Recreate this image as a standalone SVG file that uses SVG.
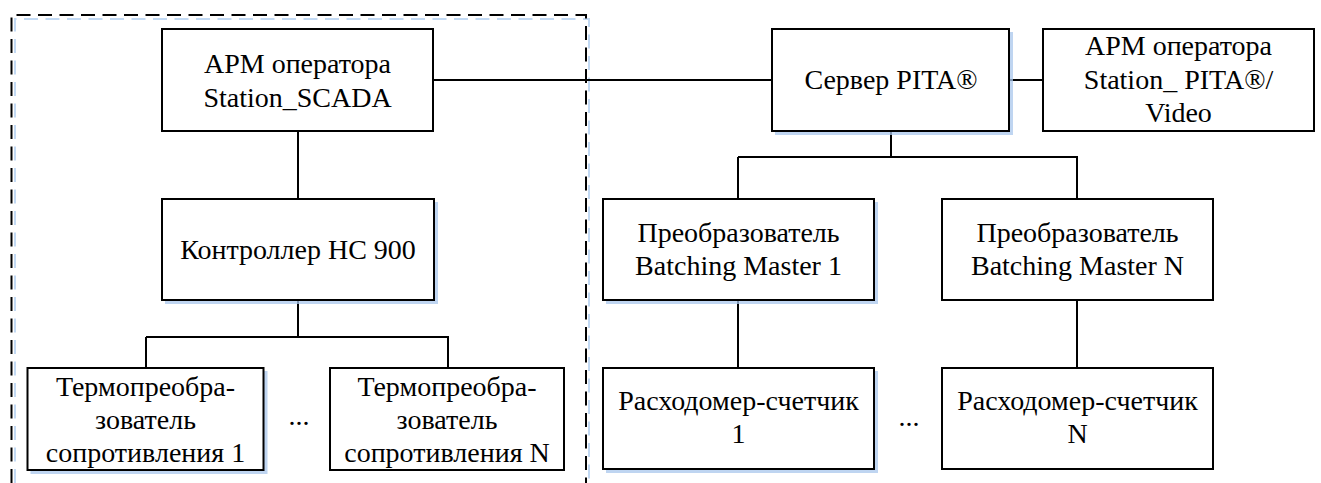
<svg xmlns="http://www.w3.org/2000/svg" width="1321" height="483" viewBox="0 0 1321 483">
<style>
.box{fill:#fff;stroke:#000;stroke-width:2}
.sh{fill:#a9c7ec;opacity:0.75}
text{font-family:'Liberation Serif','DejaVu Serif',serif;font-size:28px;fill:#000;text-anchor:middle}
.c{fill:none;stroke:#000;stroke-width:2}
.dash{fill:none;stroke:#000;stroke-width:2;stroke-dasharray:14 7.5}
.dashsh{fill:none;stroke:#b3cff0;stroke-width:2;stroke-dasharray:14 7.5;opacity:0.8}
</style>
<rect width="1321" height="483" fill="#fff"/>
<g id="boundary">
<path class="dashsh" d="M15 483 V19 H589 V483"/>
<path class="dash" d="M11.5 483 V15 H586 V483"/>
</g>
<g id="connectors">
<path class="c" d="M433 80 H772"/>
<path class="c" d="M1009 80 H1043"/>
<path class="c" d="M298 131 V199"/>
<path class="c" d="M298 300 V337 M146 337 H449 M146 337 V368 M448 337 V368"/>
<path class="c" d="M891 131 V157 M738 157 H1078 M738 157 V199 M1077 157 V199"/>
<path class="c" d="M738 300 V368"/>
<path class="c" d="M1077 300 V368"/>
</g>
<g id="scada">
<rect class="box" x="162" y="29" width="271" height="102"/>
<text x="297.5" y="73" font-family="Liberation Serif">АРМ оператора</text>
<text x="297.5" y="107" font-family="Liberation Serif">Station_SCADA</text>
</g>
<g id="server">
<rect class="sh" x="775" y="32" width="238" height="103"/>
<rect class="box" x="772" y="29" width="237" height="102"/>
<text x="891" y="89" font-family="Liberation Serif">Сервер PITA®</text>
</g>
<g id="video">
<rect class="box" x="1043" y="29" width="271" height="102"/>
<text x="1178.5" y="55" font-family="Liberation Serif">АРМ оператора</text>
<text x="1178.5" y="89" font-family="Liberation Serif">Station_ PITA®/</text>
<text x="1178.5" y="122" font-family="Liberation Serif">Video</text>
</g>
<g id="controller">
<rect class="sh" x="165" y="202" width="273" height="102"/>
<rect class="box" x="162" y="199" width="272" height="101"/>
<text x="298" y="259" font-family="Liberation Serif">Контроллер HC 900</text>
</g>
<g id="termo1">
<rect class="sh" x="30.5" y="371" width="237" height="103"/>
<rect class="box" x="27.5" y="368" width="236" height="102"/>
<text x="145.5" y="396" font-family="Liberation Serif">Термопреобра-</text>
<text x="145.5" y="429" font-family="Liberation Serif">зователь</text>
<text x="145.5" y="462" font-family="Liberation Serif">сопротивления 1</text>
</g>
<text x="299" y="425" font-family="Liberation Serif">...</text>
<g id="termoN">
<rect class="box" x="330" y="368" width="234" height="102"/>
<text x="447" y="396" font-family="Liberation Serif">Термопреобра-</text>
<text x="447" y="429" font-family="Liberation Serif">зователь</text>
<text x="447" y="462" font-family="Liberation Serif">сопротивления N</text>
</g>
<g id="bm1">
<rect class="sh" x="606" y="202" width="272" height="102"/>
<rect class="box" x="603" y="199" width="271" height="101"/>
<text x="738.5" y="242" font-family="Liberation Serif">Преобразователь</text>
<text x="738.5" y="275" font-family="Liberation Serif">Batching Master 1</text>
</g>
<g id="bmN">
<rect class="box" x="942" y="199" width="271" height="101"/>
<text x="1077.5" y="242" font-family="Liberation Serif">Преобразователь</text>
<text x="1077.5" y="275" font-family="Liberation Serif">Batching Master N</text>
</g>
<g id="counter1">
<rect class="sh" x="606" y="371" width="272" height="102"/>
<rect class="box" x="603" y="368" width="271" height="101"/>
<text x="738.5" y="410" font-family="Liberation Serif">Расходомер-счетчик</text>
<text x="738.5" y="443" font-family="Liberation Serif">1</text>
</g>
<text x="909" y="426" font-family="Liberation Serif">...</text>
<g id="counterN">
<rect class="box" x="942" y="368" width="271" height="101"/>
<text x="1077.5" y="410" font-family="Liberation Serif">Расходомер-счетчик</text>
<text x="1077.5" y="443" font-family="Liberation Serif">N</text>
</g>
</svg>
